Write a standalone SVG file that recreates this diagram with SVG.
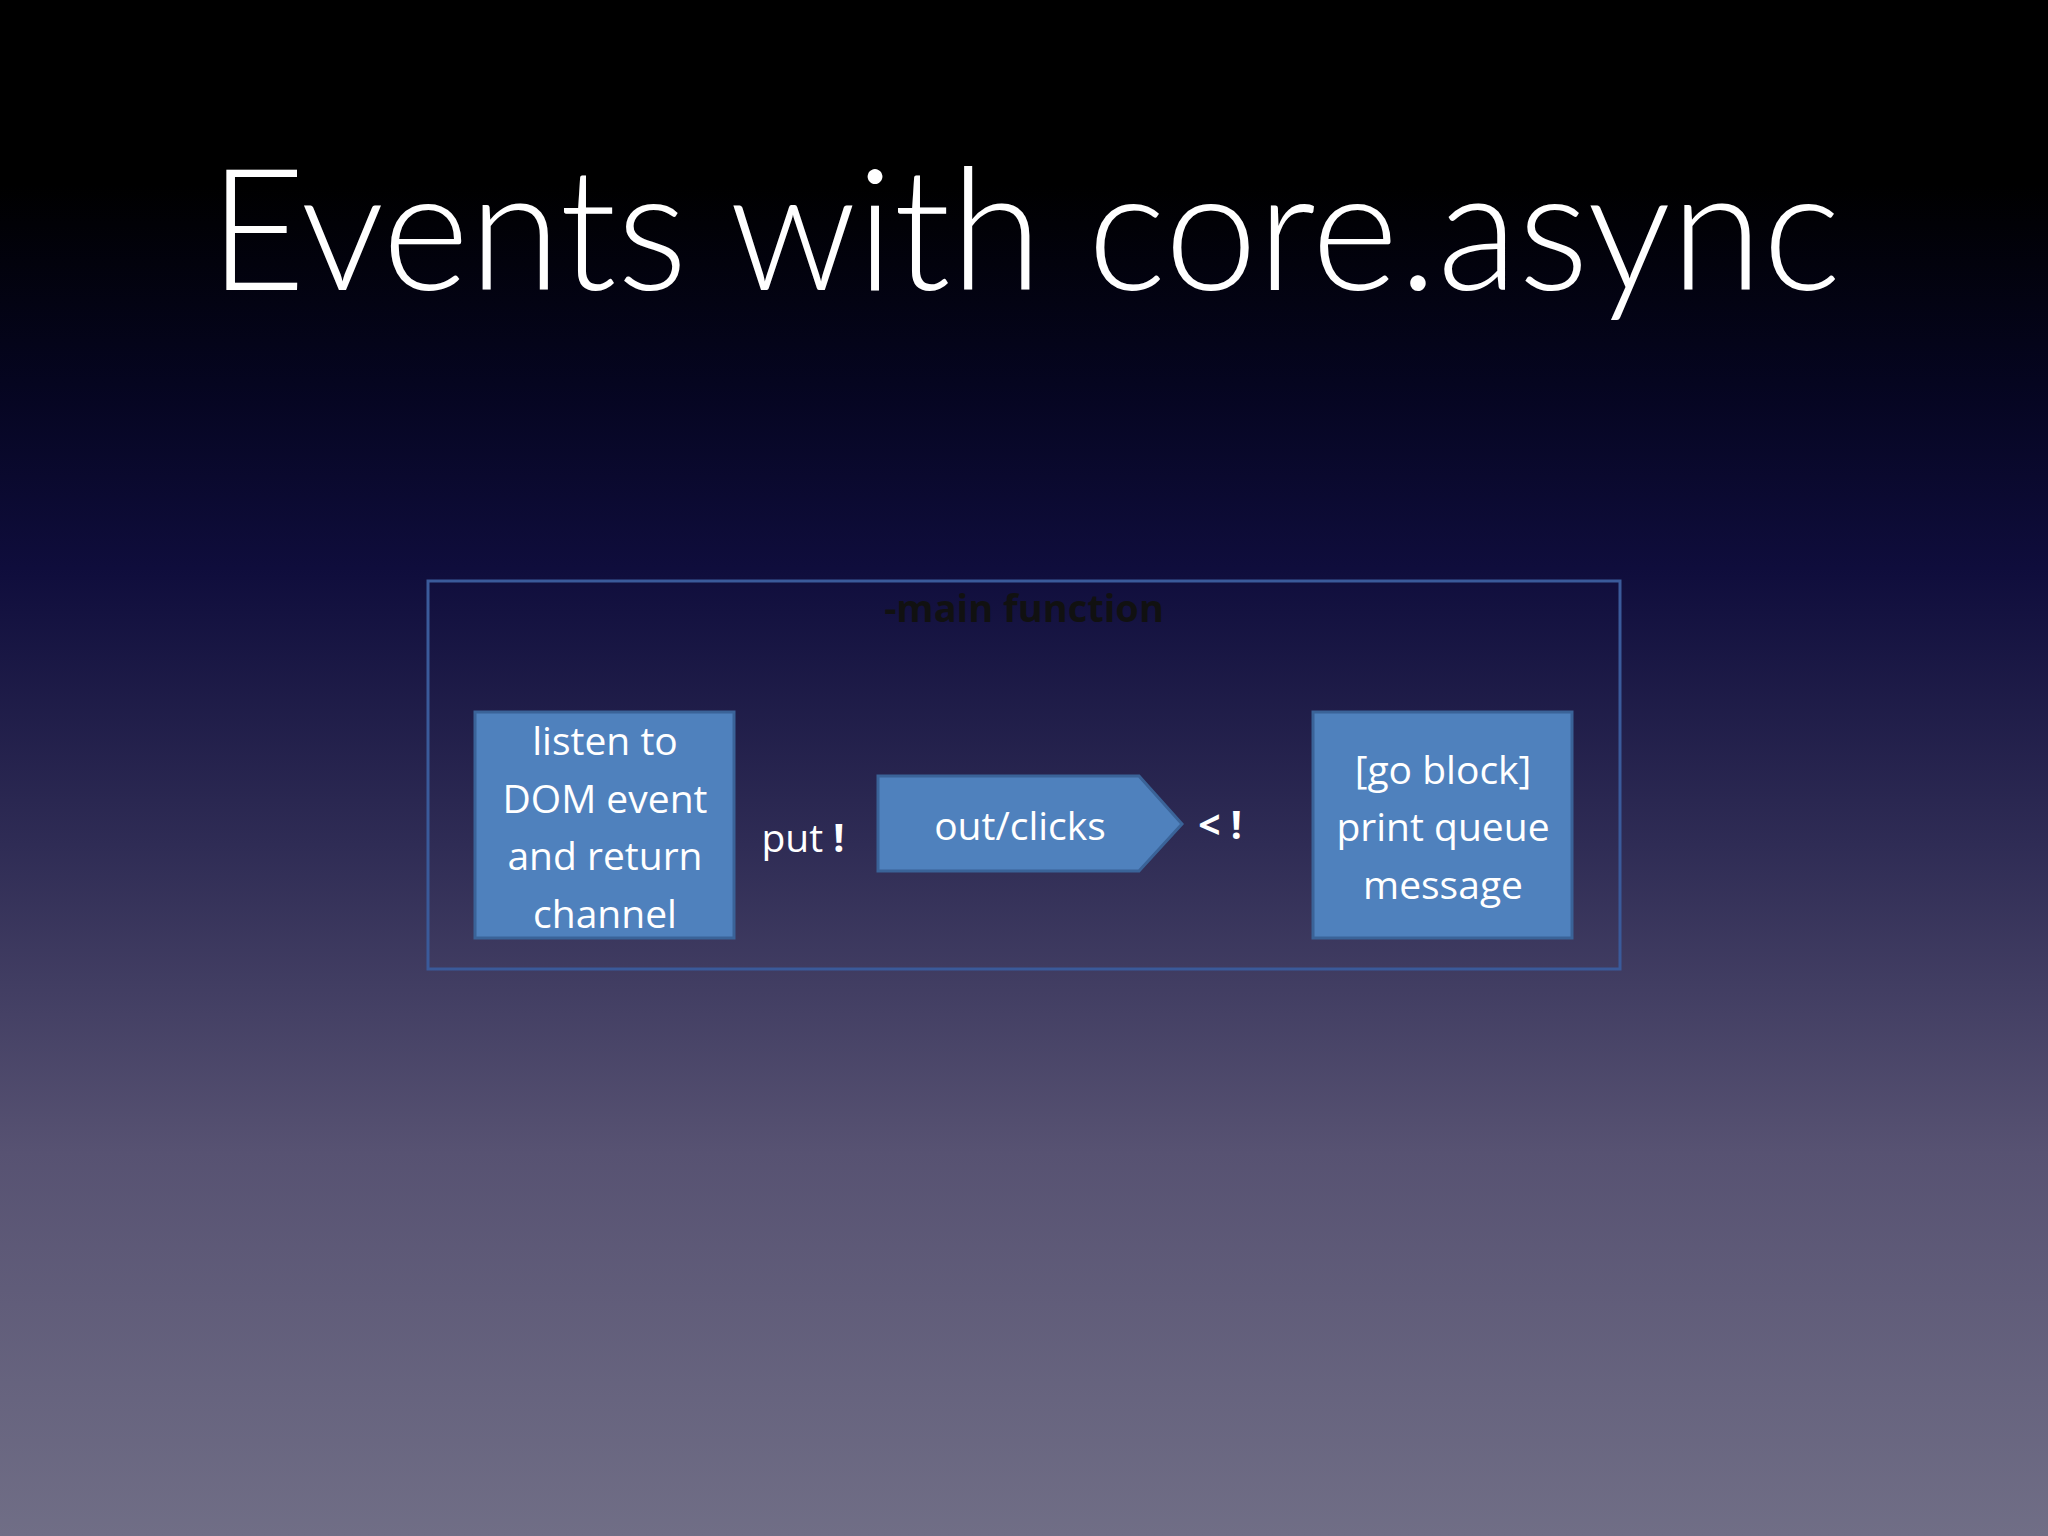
<svg xmlns="http://www.w3.org/2000/svg" width="2048" height="1536" viewBox="0 0 2048 1536">
<defs>
<linearGradient id="bg" x1="0" y1="0" x2="0" y2="1">
<stop offset="0" stop-color="#000000"/>
<stop offset="0.12" stop-color="#000000"/>
<stop offset="0.25" stop-color="#050520"/>
<stop offset="0.37" stop-color="#0f0d3c"/>
<stop offset="0.55" stop-color="#2f2c55"/>
<stop offset="0.75" stop-color="#575272"/>
<stop offset="1" stop-color="#706e86"/>
</linearGradient>
<style>
.box{fill:#4f81bd;stroke:#3a6398;stroke-width:3}
.t{font-family:"Open Sans","Liberation Sans",sans-serif;font-size:39px;fill:#fff;text-anchor:middle;dominant-baseline:central}
</style>
</defs>
<rect width="2048" height="1536" fill="url(#bg)"/>
<text x="1025" y="290" font-family="Lato, Liberation Sans, sans-serif" font-weight="300" font-size="170" fill="#fff" text-anchor="middle" textLength="1632" lengthAdjust="spacingAndGlyphs">Events with core.async</text>
<g id="main">
<rect x="428" y="581" width="1192" height="388" fill="none" stroke="#3a5a9a" stroke-width="3"/>
<text x="1024" y="607" font-family="Open Sans, sans-serif" font-weight="bold" font-size="38" fill="#111" text-anchor="middle" dominant-baseline="central">-main function</text>
</g>
<g id="listen">
<rect class="box" x="475" y="712" width="259" height="226"/>
<text class="t" x="605" y="739">listen to</text>
<text class="t" x="605" y="797">DOM event</text>
<text class="t" x="605" y="854">and return</text>
<text class="t" x="605" y="912">channel</text>
</g>
<g id="connectors">
<text class="t" x="803" y="836">put <tspan font-weight="bold">!</tspan></text>
<text class="t" x="1220" y="823" font-weight="bold">&lt; !</text>
</g>
<g id="clicks">
<polygon class="box" points="878,776 1139,776 1182,824 1139,871 878,871"/>
<text class="t" x="1020" y="824">out/clicks</text>
</g>
<g id="goblock">
<rect class="box" x="1313" y="712" width="259" height="226"/>
<text class="t" x="1443" y="768">[go block]</text>
<text class="t" x="1443" y="825">print queue</text>
<text class="t" x="1443" y="883">message</text>
</g>
</svg>
